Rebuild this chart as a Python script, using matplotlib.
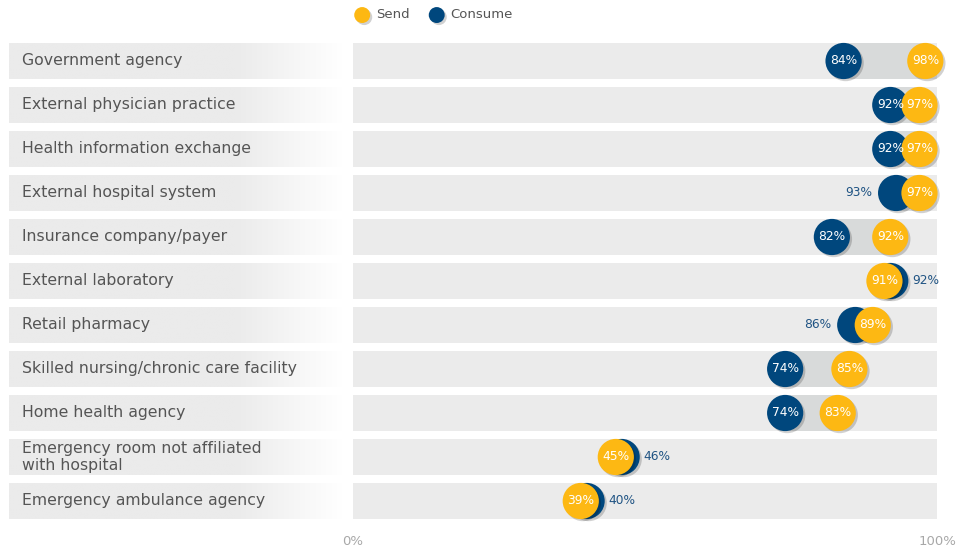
import numpy as np
import matplotlib.pyplot as plt
import matplotlib.patheffects as pe

# Dados por destino
destinos = [
    "Government agency",
    "External physician practice",
    "Health information exchange",
    "External hospital system",
    "Insurance company/payer",
    "External laboratory",
    "Retail pharmacy",
    "Skilled nursing/chronic care facility",
    "Home health agency",
    "Emergency room not affiliated\nwith hospital",
    "Emergency ambulance agency",
]
send = [98, 97, 97, 97, 92, 91, 89, 85, 83, 45, 39]
consume = [84, 92, 92, 93, 82, 92, 86, 74, 74, 46, 40]
ticks = [0, 100]
tick_labels = ["0%", "100%"]

COR_SEND = "#FDB813"
COR_CONSUME = "#00477D"
COR_TRILHO = "#EBEBEB"
COR_FAIXA = "#D8DADA"
COR_TEXTO = "#555555"
COR_ROTULO = "#1F5383"

W, H = 972, 552
fig = plt.figure(figsize=(W / 100, H / 100), dpi=100)
fig.patch.set_facecolor("white")

n = len(destinos)
y = np.arange(n)
altura = 36 / 44
topo, base = 39, 523  # limites verticais em pixels
pos_y = (H - base) / H
alt_y = (base - topo) / H

# Eixo principal (0% a 100%)
ax = fig.add_axes([353 / W, pos_y, 584 / W, alt_y])
ax.set_xlim(0, 100)
ax.set_ylim(n - 0.5, -0.5)
ax.barh(y, 100, height=altura, color=COR_TRILHO, zorder=1)

lo = np.minimum(send, consume)
hi = np.maximum(send, consume)
ax.barh(y, hi - lo, left=lo, height=altura, color=COR_FAIXA, zorder=2)

sombra = [pe.SimplePatchShadow(offset=(1.5, -1.5), shadow_rgbFace="#000000", alpha=0.18), pe.Normal()]
s_circ = 680
h_cons = ax.scatter(consume, y, s=s_circ, color=COR_CONSUME, zorder=3, clip_on=False,
                    linewidths=0, path_effects=sombra, label="Consume")
h_send = ax.scatter(send, y, s=s_circ, color=COR_SEND, zorder=4, clip_on=False,
                    linewidths=0, path_effects=sombra, label="Send")

fs_val = 8.8
for i in range(n):
    ax.text(send[i], i, f"{send[i]}%", color="white", fontsize=fs_val,
            ha="center", va="center", zorder=6)
    c, s = consume[i], send[i]
    if c > s:
        ax.annotate(f"{c}%", (c, i), xytext=(16, 0), textcoords="offset points",
                    color=COR_ROTULO, fontsize=fs_val, ha="left", va="center", zorder=6)
    elif s - c >= 5:
        ax.text(c, i, f"{c}%", color="white", fontsize=fs_val,
                ha="center", va="center", zorder=5)
    else:
        ax.annotate(f"{c}%", (c, i), xytext=(-17, 0), textcoords="offset points",
                    color=COR_ROTULO, fontsize=fs_val, ha="right", va="center", zorder=6)

ax.set_xticks(ticks)
ax.set_xticklabels(tick_labels, color="#A8A8A8", fontsize=9.5)
ax.tick_params(axis="x", length=0, pad=8.5)
ax.set_yticks([])
for sp in ax.spines.values():
    sp.set_visible(False)

# Caixas com os nomes (degradê cinza -> branco)
axl = fig.add_axes([9 / W, pos_y, 334 / W, alt_y])
axl.set_xlim(0, 1)
axl.set_ylim(n - 0.5, -0.5)
axl.axis("off")
t = np.linspace(0, 1, 200)
inicio = 0.68
grad = np.where(t < inicio, 0.0, (t - inicio) / (1 - inicio))
cinza = np.array([0xEB, 0xEB, 0xEB]) / 255
branco = np.array([1.0, 1.0, 1.0])
img = cinza[None, :] * (1 - grad[:, None]) + branco[None, :] * grad[:, None]
img = img[None, :, :]
for i in range(n):
    axl.imshow(img, extent=(0, 1, i + altura / 2, i - altura / 2), aspect="auto",
               interpolation="bilinear", zorder=1)
    axl.text(13 / 334, i, destinos[i], color=COR_TEXTO, fontsize=11.3,
             ha="left", va="center", linespacing=1.1, zorder=2)

# Legenda
leg = fig.legend(handles=[h_send, h_cons], labels=["Send", "Consume"], ncol=2,
                 loc="center left", bbox_to_anchor=(349 / W, 1 - 15 / H),
                 frameon=False, markerscale=0.44, fontsize=9.5, handletextpad=0.45,
                 columnspacing=1.45, handlelength=1.2, borderaxespad=0)
for txt in leg.get_texts():
    txt.set_color(COR_TEXTO)

fig.savefig("out.png", dpi=100, facecolor="white")
